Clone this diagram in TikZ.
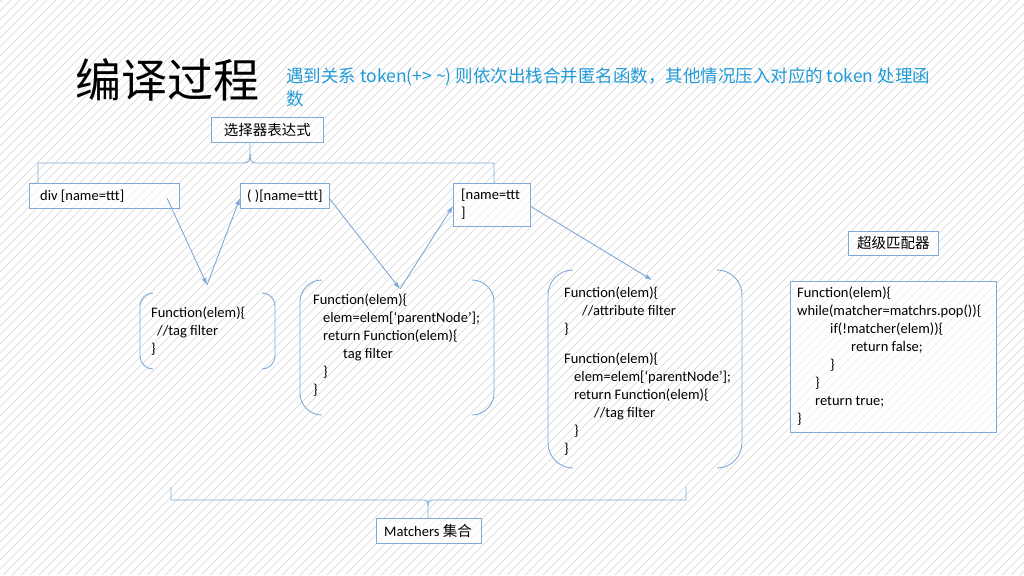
\documentclass[tikz,border=0pt]{standalone}
\usepackage{fontspec}
\usetikzlibrary{arrows.meta}
\setmainfont{Carlito}
\newfontfamily\cjk{Noto Sans CJK SC}
\definecolor{ln}{HTML}{7FA9D8}
\definecolor{tb}{HTML}{1F9AD6}
\begin{document}
\begin{tikzpicture}[x=1pt,y=-1pt,
  box/.style={draw=ln,line width=0.9pt,fill=white,fill opacity=0.6,text opacity=1,anchor=north west,align=left,inner sep=0pt},
  code/.style={anchor=north west,align=left,inner sep=0pt,font=\fontsize{14.5}{18}\selectfont},
  con/.style={draw=ln,line width=0.9pt},
  arr/.style={con,-{Latex[length=7pt,width=5pt]}}]
\useasboundingbox (0,0) rectangle (1024,575);
\begin{scope}
\clip (0,0) rectangle (1024,575);
\foreach \x in {-600,-591,...,1024} \draw[gray!35,line width=0.5pt] (\x,575)--(\x+575,0);
\end{scope}
% title
\node[anchor=west,inner sep=0pt,font=\cjk\fontsize{46}{50}\selectfont] (title) at (75,80) {编译过程};
\node[anchor=north west,inner sep=0pt,align=left,text=tb,font=\cjk\fontsize{17.5}{23}\selectfont] (note) at (286,67)
 {遇到关系 token(+> \textasciitilde) 则依次出栈合并匿名函数，其他情况压入对应的 token 处理函\\数};
% boxes
\node[box,minimum width=112,minimum height=25] (sel) at (211,117) {};
\node[font=\cjk\fontsize{14.5}{16}\selectfont] at (sel.center) {选择器表达式};
\node[box,minimum width=150,minimum height=25] (b1) at (29,183) {};
\node[anchor=west,font=\fontsize{14.5}{16}\selectfont,inner sep=0pt] at (40,196) {div [name=ttt]};
\node[box,minimum width=89,minimum height=25] (b2) at (240,183) {};
\node[anchor=west,font=\fontsize{14.5}{16}\selectfont,inner sep=0pt] at (247,196) {( )[name=ttt]};
\node[box,minimum width=77,minimum height=43] (b3) at (453,183) {};
\node[anchor=north west,align=left,font=\fontsize{14.5}{18}\selectfont,inner sep=0pt] at (461,189) {[name=ttt\\]};
% top brace
\draw[con] (38,183)--(38,163)--(244,163) .. controls (249,163) and (250,160) .. (250,154)--(250,142);
\draw[con] (250,154) .. controls (250,160) and (251,163) .. (256,163)--(494,163)--(494,183);
% arrows
\coordinate (p1) at (207,285);
\coordinate (p2) at (400,289);
\coordinate (p3) at (652,280);
\draw[arr] (167,198)--(p1);
\draw[arr] (p1)--(240,198);
\draw[arr] (329,198)--(p2);
\draw[arr] (p2)--(453,206);
\draw[arr] (530,206)--(p3);
% bracket groups
\foreach \a/\b/\c/\d/\r in {140/275/293/369/13,300/494/280/415/22,548/742/270/468/25}{
  \draw[con,rounded corners=\r] (\a+\r,\c)--(\a,\c)--(\a,\d)--(\a+\r,\d);
  \draw[con,rounded corners=\r] (\b-\r,\c)--(\b,\c)--(\b,\d)--(\b-\r,\d);
}
\node[code] (g1) at (151,307) {Function(elem)\{\\\hspace{6pt}//tag filter\\\}};
\node[code] (g2) at (313,294) {Function(elem)\{\\\hspace{10pt}elem=elem[‘parentNode’];\\\hspace{10pt}return Function(elem)\{\\\hspace{30pt}tag filter\\\hspace{10pt}\}\\\}};
\node[code] (g3) at (564,287) {Function(elem)\{\\\hspace{18pt}//attribute filter\\\}};
\node[code] (g4) at (564,353) {Function(elem)\{\\\hspace{10pt}elem=elem[‘parentNode’];\\\hspace{10pt}return Function(elem)\{\\\hspace{30pt}//tag filter\\\hspace{10pt}\}\\\}};
% super matcher
\node[box,minimum width=90,minimum height=24] (sm) at (848,231) {};
\node[font=\cjk\fontsize{14.5}{16}\selectfont] at (sm.center) {超级匹配器};
\node[box,minimum width=206,minimum height=151] (cb) at (790,281) {};
\node[code] at (797,287) {Function(elem)\{\\while(matcher=matchrs.pop())\{\\\hspace{33pt}if(!matcher(elem))\{\\\hspace{54pt}return false;\\\hspace{33pt}\}\\\hspace{18pt}\}\\\hspace{18pt}return true;\\\}};
% bottom brace
\draw[con] (171,487)--(171,500)--(425,500) .. controls (428,500) and (428,502) .. (428,506)--(428,518);
\draw[con] (428,506) .. controls (428,502) and (429,500) .. (432,500)--(686,500)--(686,487);
\node[box,minimum width=105,minimum height=25] (mt) at (376,518) {};
\node[anchor=west,inner sep=0pt,font=\fontsize{14.5}{16}\selectfont] at (384,531) {Matchers {\cjk 集合}};
\end{tikzpicture}
\end{document}
